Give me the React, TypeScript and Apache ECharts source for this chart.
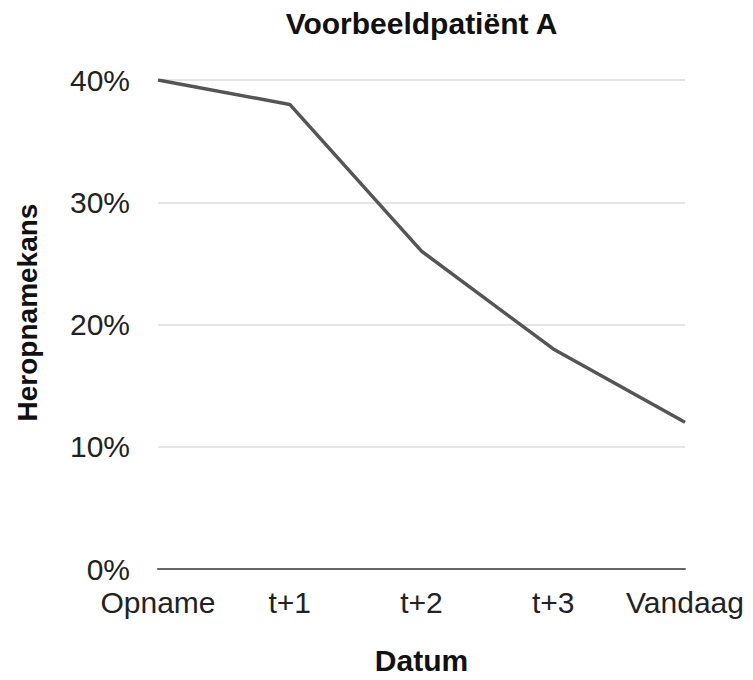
import React, { useEffect, useRef } from "react";
import * as echarts from "echarts";

const titleText = "Voorbeeldpatiënt A";
const categories = ["Opname", "t+1", "t+2", "t+3", "Vandaag"];
const values = [40, 38, 26, 18, 12];
const yTicks = [0, 10, 20, 30, 40];

export default function App() {
  const ref = useRef<HTMLDivElement>(null);
  useEffect(() => {
    if (!ref.current) return;
    const chart = echarts.init(ref.current, undefined, { renderer: "svg" });
    const font = "'Liberation Sans', Arial, Helvetica, sans-serif";
    chart.setOption({
      animation: false,
      backgroundColor: "#ffffff",
      textStyle: { fontFamily: font },
      graphic: [
        {
          type: "text",
          x: 421.5,
          y: 8,
          style: {
            text: titleText,
            fontFamily: font,
            fontWeight: "bold",
            fontSize: 30,
            fill: "#111",
            textAlign: "center",
            textVerticalAlign: "top",
          },
        },
      ],
      grid: { left: 158, right: 68, top: 80, bottom: 108 },
      xAxis: {
        type: "category",
        data: categories,
        boundaryGap: false,
        name: "Datum",
        nameLocation: "middle",
        nameGap: 76,
        nameTextStyle: { fontFamily: font, fontWeight: "bold", fontSize: 30, color: "#111", verticalAlign: "top" },
        axisLine: { lineStyle: { color: "#666", width: 2 } },
        axisTick: { show: false },
        axisLabel: { fontFamily: font, fontSize: 30, color: "#222", margin: 18, interval: 0, hideOverlap: false },
      },
      yAxis: {
        type: "value",
        min: yTicks[0],
        max: yTicks[yTicks.length - 1],
        interval: 10,
        name: "Heropnamekans",
        nameLocation: "middle",
        nameRotate: 90,
        nameGap: 117,
        nameTextStyle: { fontFamily: font, fontWeight: "bold", fontSize: 28, color: "#111", padding: [0, 0, 0, 24] },
        axisLine: { show: false },
        axisTick: { show: false },
        axisLabel: { fontFamily: font, fontSize: 30, color: "#222", margin: 28, formatter: "{value}%" },
        splitLine: { lineStyle: { color: "#dddddd", width: 1.5 } },
      },
      series: [
        {
          type: "line",
          data: values,
          symbol: "none",
          lineStyle: { color: "#555555", width: 3.5 },
        },
      ],
    });
    return () => chart.dispose();
  }, []);
  return <div ref={ref} style={{ position: "fixed", left: 0, top: 0, width: 753, height: 680 }} />;
}
